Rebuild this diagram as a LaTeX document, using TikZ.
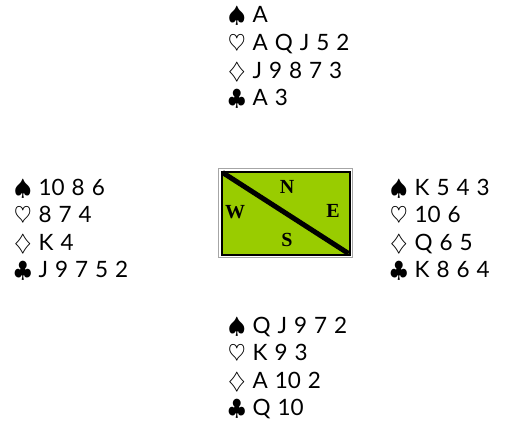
\RequirePackage{fix-cm}
\documentclass[tikz,border=0pt]{standalone}
\usepackage{fontspec}
\setmainfont{Lato}
\newfontfamily\seatfont{Liberation Serif}
\definecolor{felt}{RGB}{153,204,0}
\newcommand\handfont{\fontsize{22.5}{26}\selectfont\spaceskip=0.31em\relax}

\begin{document}
\begin{tikzpicture}[x=1pt,y=-1pt,
  hand/.style={anchor=base west,inner sep=0pt,font=\handfont},
  seat/.style={inner sep=0pt,font=\seatfont\bfseries\fontsize{20}{22}\selectfont}]
\useasboundingbox (0,0) rectangle (529,420);
% north hand
\foreach \s/\c [count=\i] in {\spadesuit/A,\heartsuit/A Q J 5 2,\diamondsuit/J 9 8 7 3,\clubsuit/A 3}
  \node[hand] (north\i) at (228,{23+27.5*(\i-1)}) {$\s$ \c};
% west hand
\foreach \s/\c [count=\i] in {\spadesuit/10 8 6,\heartsuit/8 7 4,\diamondsuit/K 4,\clubsuit/J 9 7 5 2}
  \node[hand] (west\i) at (14,{195+27.5*(\i-1)}) {$\s$ \c};
% east hand
\foreach \s/\c [count=\i] in {\spadesuit/K 5 4 3,\heartsuit/10 6,\diamondsuit/Q 6 5,\clubsuit/K 8 6 4}
  \node[hand] (east\i) at (390,{195+27.5*(\i-1)}) {$\s$ \c};
% south hand
\foreach \s/\c [count=\i] in {\spadesuit/Q J 9 7 2,\heartsuit/K 9 3,\diamondsuit/A 10 2,\clubsuit/Q 10}
  \node[hand] (south\i) at (228,{333+27.5*(\i-1)}) {$\s$ \c};
% table
\draw[gray!70,line width=1pt] (218.5,168.5) rectangle (352.5,257.5);
\draw[fill=felt,line width=2pt] (221.5,171.5) rectangle (349.5,254.5);
\draw[line width=5pt] (222.5,172.5) -- (348.5,253.5);
\node[seat] (seatN) at (287,187) {N};
\node[seat] (seatW) at (235,212) {W};
\node[seat] (seatE) at (333,211) {E};
\node[seat] (seatS) at (287,240) {S};
\end{tikzpicture}
\end{document}
